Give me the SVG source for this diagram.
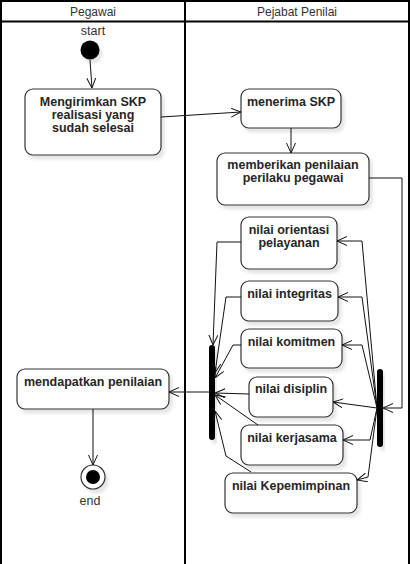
<svg xmlns="http://www.w3.org/2000/svg" width="411" height="564" viewBox="0 0 411 564">
<style>
.lane{fill:none;stroke:#000;stroke-width:2}
.hd{font-family:"Liberation Sans",Arial,sans-serif;font-size:12px;fill:#333;text-anchor:middle}
.box{fill:#fff;stroke:#333;stroke-width:1.2;filter:url(#sh)}
.lbl{font-family:"Liberation Sans",Arial,sans-serif;font-size:12.5px;font-weight:bold;fill:#262626;text-anchor:middle}
.cap{font-family:"Liberation Sans",Arial,sans-serif;font-size:12.5px;fill:#333;text-anchor:middle}
.bar{fill:#000;filter:url(#sh)}
.edge{fill:none;stroke:#111;stroke-width:1;marker-end:url(#arr)}
</style>
<defs>
<filter id="sh" x="-20%" y="-20%" width="150%" height="150%">
<feDropShadow dx="3" dy="4" stdDeviation="1.5" flood-color="#000" flood-opacity="0.1"/>
</filter>
<marker id="arr" viewBox="0 0 10 10" refX="10" refY="5" markerWidth="10" markerHeight="10" markerUnits="userSpaceOnUse" orient="auto">
<path d="M0,0.5 L10,5 L0,9.5" fill="none" stroke="#111" stroke-width="1"/>
</marker>
</defs>
<g id="lanes">
<rect class="lane" x="1" y="1" width="408" height="600"/>
<line class="lane" x1="185" y1="1" x2="185" y2="600"/>
<line class="lane" x1="1" y1="21.5" x2="409" y2="21.5"/>
<text class="hd" x="93" y="16">Pegawai</text>
<text class="hd" x="297" y="16">Pejabat Penilai</text>
</g>
<g id="start">
<circle cx="90" cy="50" r="9.5" fill="#000" filter="url(#sh)"/>
<text class="cap" x="93" y="35">start</text>
</g>
<g id="kirim">
<rect class="box" x="25" y="89" width="136" height="66" rx="8"/>
<text class="lbl" x="93" y="106">Mengirimkan SKP</text>
<text class="lbl" x="93" y="119">realisasi yang</text>
<text class="lbl" x="93" y="132">sudah selesai</text>
</g>
<g id="menerima">
<rect class="box" x="241" y="89" width="100" height="39" rx="8"/>
<text class="lbl" x="291" y="106">menerima SKP</text>
</g>
<g id="memberikan">
<rect class="box" x="217" y="153" width="152" height="52" rx="8"/>
<text class="lbl" x="293" y="169">memberikan penilaian</text>
<text class="lbl" x="293" y="182">perilaku pegawai</text>
</g>
<g id="orientasi">
<rect class="box" x="241" y="217" width="96" height="52" rx="8"/>
<text class="lbl" x="289" y="234">nilai orientasi</text>
<text class="lbl" x="289" y="247">pelayanan</text>
</g>
<g id="integritas">
<rect class="box" x="241" y="281" width="97" height="40" rx="8"/>
<text class="lbl" x="289.5" y="298">nilai integritas</text>
</g>
<g id="komitmen">
<rect class="box" x="241" y="329" width="101" height="39" rx="8"/>
<text class="lbl" x="291.5" y="346">nilai komitmen</text>
</g>
<g id="disiplin">
<rect class="box" x="249" y="377" width="84" height="40" rx="8"/>
<text class="lbl" x="291" y="393">nilai disiplin</text>
</g>
<g id="kerjasama">
<rect class="box" x="241" y="425" width="102" height="40" rx="8"/>
<text class="lbl" x="292" y="442">nilai kerjasama</text>
</g>
<g id="kepemimpinan">
<rect class="box" x="225" y="473" width="132" height="40" rx="8"/>
<text class="lbl" x="291" y="490">nilai Kepemimpinan</text>
</g>
<g id="mendapatkan">
<rect class="box" x="17" y="369" width="152" height="40" rx="8"/>
<text class="lbl" x="93" y="386">mendapatkan penilaian</text>
</g>
<g id="fork">
<rect class="bar" x="377" y="369" width="6" height="78" rx="3"/>
</g>
<g id="join">
<rect class="bar" x="209" y="345" width="6" height="95" rx="3"/>
</g>
<g id="end">
<circle cx="93" cy="477" r="12" fill="#fff" stroke="#333" stroke-width="1.2" filter="url(#sh)"/>
<circle cx="93" cy="477" r="7" fill="#000"/>
<text class="cap" x="90" y="505">end</text>
</g>
<g id="connectors">
<polyline class="edge" points="90,60 92,88"/>
<polyline class="edge" points="161,117 241,112"/>
<polyline class="edge" points="291,128 291,153"/>
<polyline class="edge" points="369,178 402,178 402,408 383,408"/>
<polyline class="edge" points="377,408 362,241 337,241"/>
<polyline class="edge" points="377,408 362,297 338,297"/>
<polyline class="edge" points="377,408 362,345 342,345"/>
<polyline class="edge" points="377,408 333,402"/>
<polyline class="edge" points="377,408 370,440 343,440"/>
<polyline class="edge" points="377,408 368,477 357,480"/>
<polyline class="edge" points="241,242 217,242 213,345"/>
<polyline class="edge" points="241,297 226,297 215,373"/>
<polyline class="edge" points="241,345 233,345 215,378"/>
<polyline class="edge" points="249,394 215,393"/>
<polyline class="edge" points="258,425 215,395"/>
<polyline class="edge" points="251,472 226,456 215,411"/>
<polyline class="edge" points="209,392 169,392"/>
<polyline class="edge" points="93,409 93,465"/>
</g>
</svg>
